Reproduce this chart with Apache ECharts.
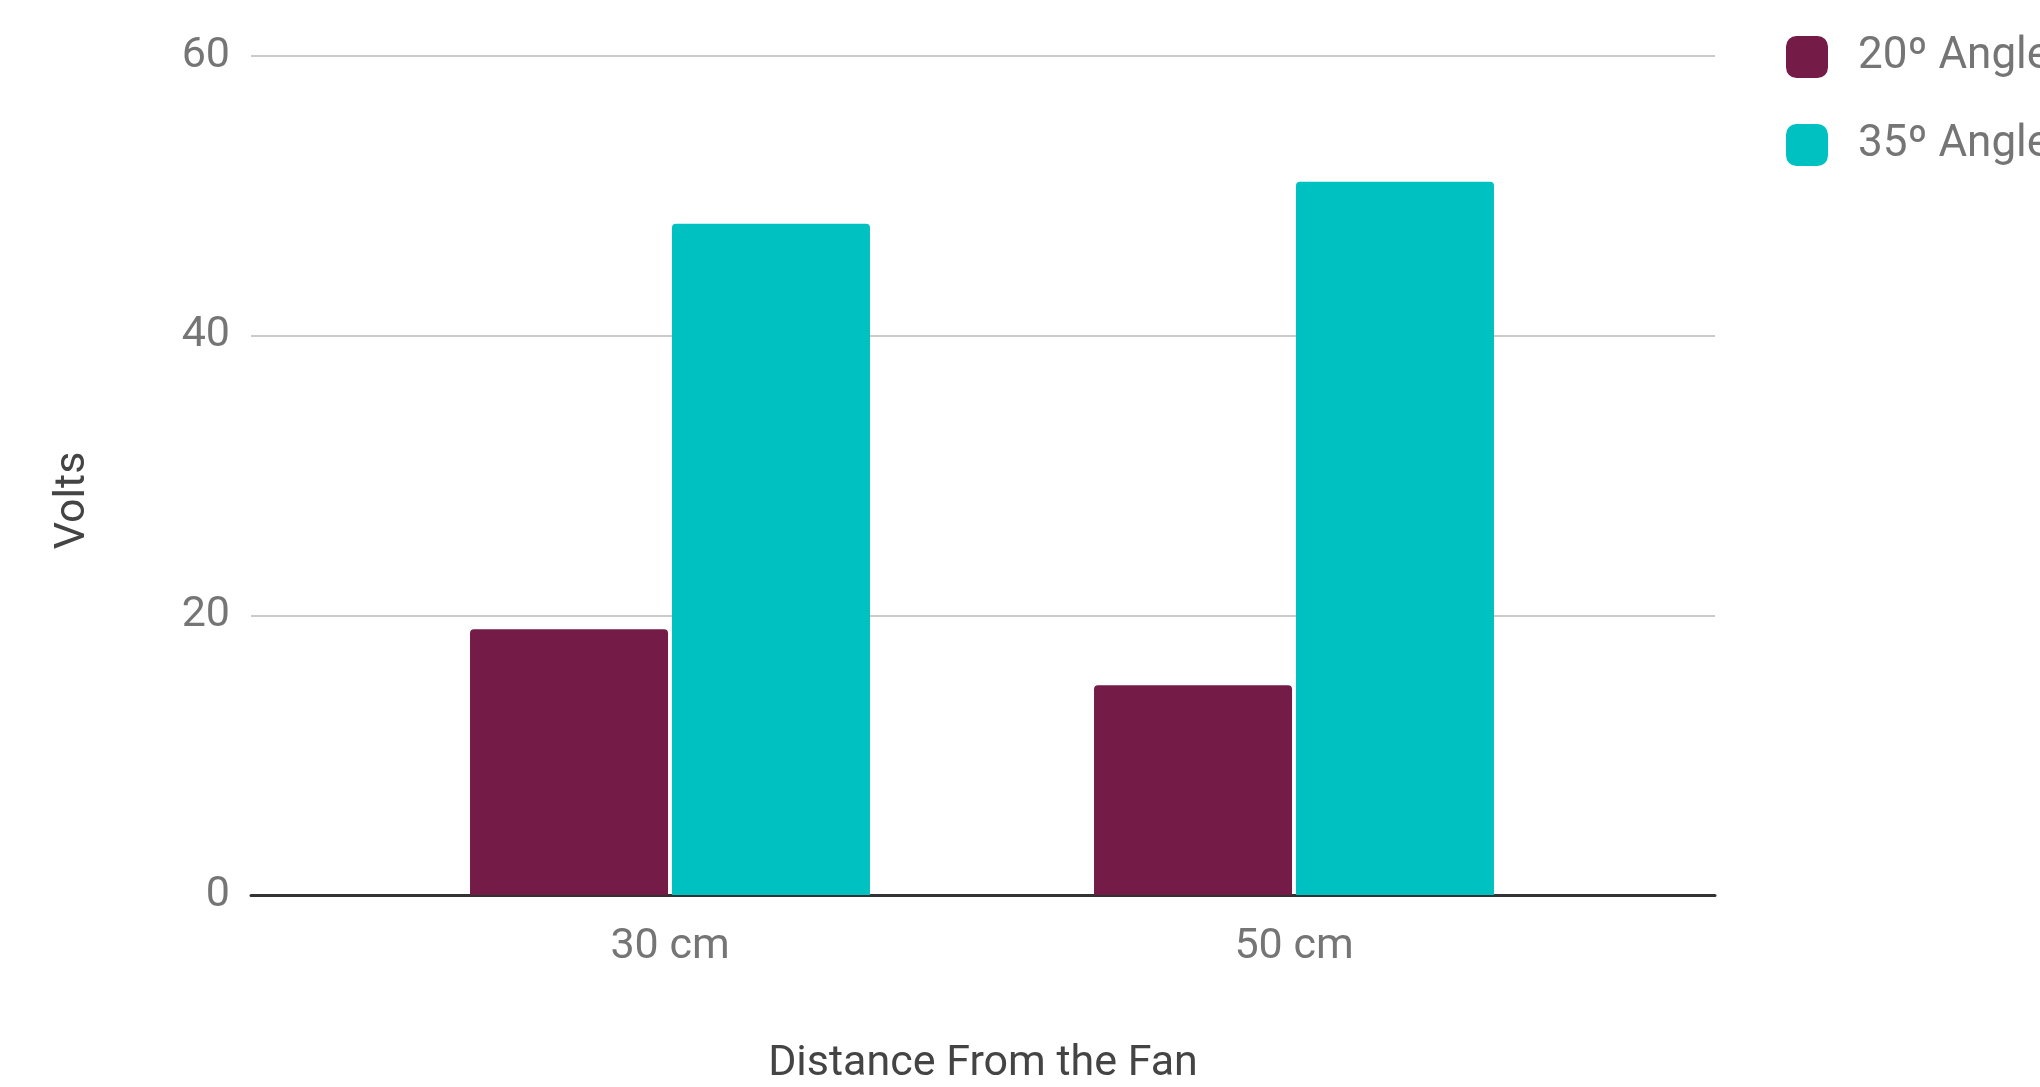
<!DOCTYPE html>
<html>
<head>
<meta charset="utf-8">
<script src="https://cdn.jsdelivr.net/npm/echarts@6/dist/echarts.min.js"></script>
<style>
html,body{margin:0;padding:0;background:#fff;}
#chart{width:2040px;height:1087px;}
</style>
</head>
<body>
<div id="chart"></div>
<script>
const categories = ['30 cm', '50 cm'];
const seriesNames = ['20º Angle', '35º Angle'];
const angle20 = [19, 15];
const angle35 = [48, 51];
const yTicks = [0, 20, 40, 60];
const xTitle = 'Distance From the Fan';
const yTitle = 'Volts';

const chart = echarts.init(document.getElementById('chart'), null, {renderer: 'canvas'});
const FONT = 'Roboto';
const option = {
  backgroundColor: '#ffffff',
  animation: false,
  legend: {
    orient: 'vertical',
    left: 1781,
    top: 30,
    itemWidth: 42,
    itemHeight: 42,
    itemGap: 44,
    icon: 'roundRect',
    data: seriesNames,
    textStyle: {fontFamily: FONT, fontSize: 44, color: '#757575', padding: [0, 0, 0, 25]}
  },
  grid: [
    {left: 251, right: 325, top: 56, bottom: 192, containLabel: false, outerBoundsMode: 'none'},
    {left: 358, right: 434, top: 56, bottom: 192, containLabel: false, outerBoundsMode: 'none'}
  ],
  xAxis: [
    {
      gridIndex: 0, type: 'category', data: categories,
      axisLine: {show: true, lineStyle: {color: '#333333', width: 3}},
      axisTick: {show: false}, axisLabel: {show: false},
      splitLine: {show: false},
      name: xTitle, nameLocation: 'middle', nameGap: 148,
      nameTextStyle: {fontFamily: FONT, fontSize: 43, color: '#444444'}
    },
    {
      gridIndex: 1, type: 'category', data: categories,
      axisLine: {show: false}, axisTick: {show: false},
      axisLabel: {fontFamily: FONT, fontSize: 43, color: '#757575', margin: 31},
      splitLine: {show: false}
    }
  ],
  yAxis: [
    {
      gridIndex: 0, type: 'value', min: yTicks[0], max: yTicks[yTicks.length - 1], interval: 20,
      axisLine: {show: false}, axisTick: {show: false},
      axisLabel: {fontFamily: FONT, fontSize: 43, color: '#757575', margin: 21, padding: [8, 0, 0, 0]},
      splitLine: {show: true, lineStyle: {color: '#cccccc', width: 2}},
      name: yTitle, nameLocation: 'middle', nameGap: 156, nameRotate: 90,
      nameTextStyle: {fontFamily: FONT, fontSize: 43, color: '#444444', padding: [0, 50, 0, 0]}
    },
    {
      gridIndex: 1, type: 'value', min: yTicks[0], max: yTicks[yTicks.length - 1], interval: 20,
      show: false, splitLine: {show: false}
    }
  ],
  series: [
    {
      name: seriesNames[0], type: 'bar', xAxisIndex: 1, yAxisIndex: 1,
      data: angle20, barWidth: 198, barGap: '2%',
      itemStyle: {color: '#741b47', borderRadius: [4, 4, 0, 0]}
    },
    {
      name: seriesNames[1], type: 'bar', xAxisIndex: 1, yAxisIndex: 1,
      data: angle35, barWidth: 198, barGap: '2%',
      itemStyle: {color: '#00c1c1', borderRadius: [4, 4, 0, 0]}
    }
  ]
};
chart.setOption(option);
</script>
</body>
</html>
